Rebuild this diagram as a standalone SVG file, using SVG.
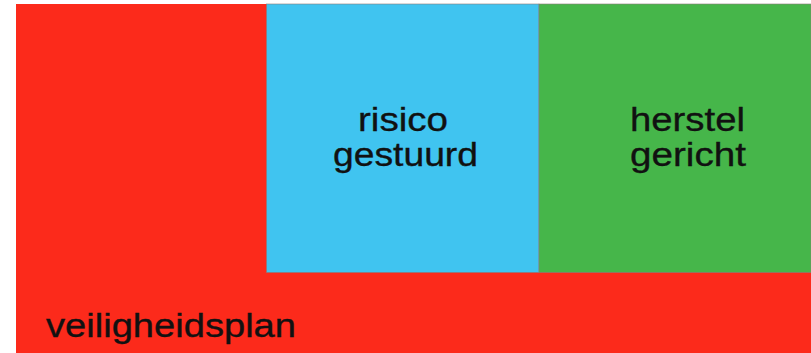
<svg xmlns="http://www.w3.org/2000/svg" width="811" height="353" viewBox="0 0 811 353">
<style>
.lbl{font-family:"Liberation Sans",Arial,Helvetica,sans-serif;font-size:33px;fill:#111;stroke:#111;stroke-width:0.35;}
.box{stroke:#8a7a78;stroke-width:0.6;}
</style>
<rect x="0" y="0" width="811" height="353" fill="#ffffff"/>
<g id="veiligheidsplan">
<rect x="16" y="4" width="795" height="349" fill="#fc2a1b"/>
<text class="lbl" x="46" y="337" textLength="250" lengthAdjust="spacingAndGlyphs">veiligheidsplan</text>
</g>
<g id="risico-gestuurd">
<rect class="box" x="266.5" y="4" width="272.5" height="268.5" fill="#40c4f0"/>
<text class="lbl" x="358" y="131" textLength="90" lengthAdjust="spacingAndGlyphs">risico</text>
<text class="lbl" x="333" y="166" textLength="145" lengthAdjust="spacingAndGlyphs">gestuurd</text>
</g>
<g id="herstel-gericht">
<rect class="box" x="539" y="4" width="272" height="268.5" fill="#46b64a"/>
<text class="lbl" x="630" y="131" textLength="115" lengthAdjust="spacingAndGlyphs">herstel</text>
<text class="lbl" x="630" y="166" textLength="116" lengthAdjust="spacingAndGlyphs">gericht</text>
</g>
<g id="connectors"></g>
</svg>
